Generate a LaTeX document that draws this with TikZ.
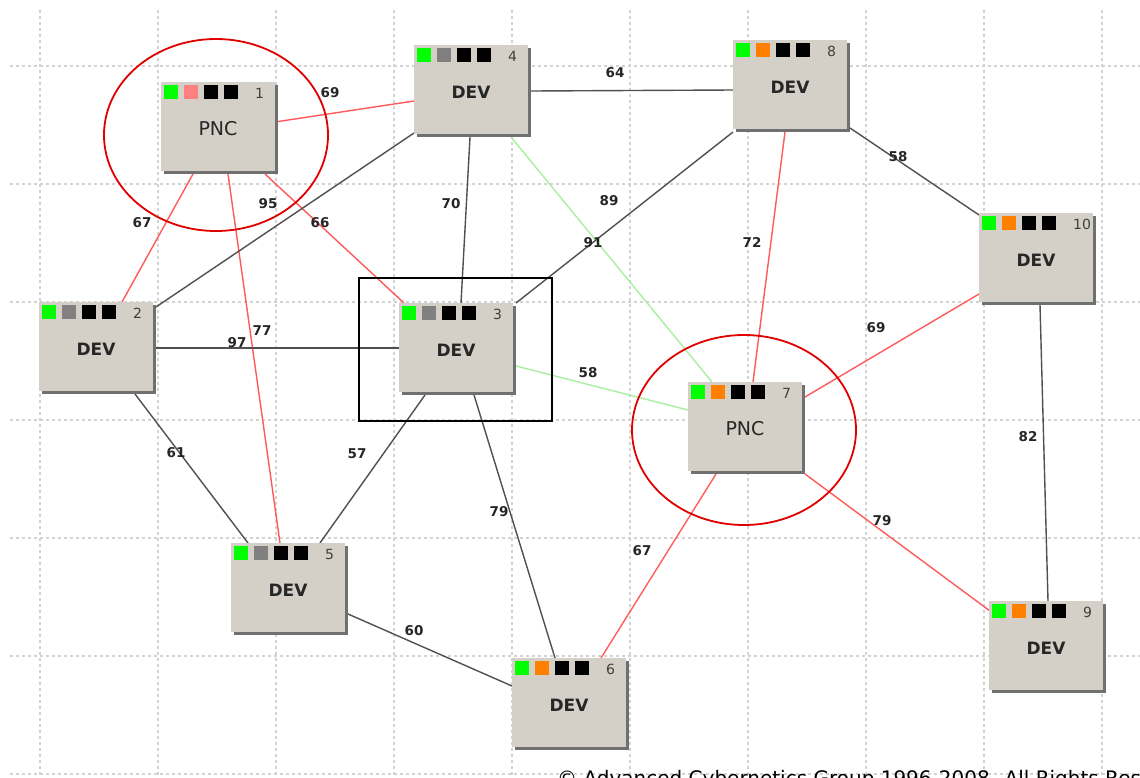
\documentclass[tikz,border=0pt]{standalone}
\usepackage{fontspec}
\setmainfont{DejaVu Sans}
\usetikzlibrary{calc}
\definecolor{gridgray}{HTML}{D2D2D2}
\definecolor{boxfill}{HTML}{D4D0C8}
\definecolor{boxshade}{HTML}{707070}
\definecolor{linkgray}{HTML}{505050}
\definecolor{linkred}{HTML}{FF5A5A}
\definecolor{linkgreen}{HTML}{A8F0A0}
\definecolor{ringred}{HTML}{E00000}
\definecolor{indgreen}{HTML}{00FF00}
\definecolor{indpink}{HTML}{FF8080}
\definecolor{indgray}{HTML}{808080}
\definecolor{indorange}{HTML}{FF8000}
\definecolor{numgray}{HTML}{404040}
\tikzset{
  gridline/.style={draw=gridgray, line width=1.2pt, dash pattern=on 3pt off 3pt},
  netbox/.style={rectangle, fill=boxfill, anchor=north west, minimum width=114pt, minimum height=89pt, inner sep=0pt, outer sep=0pt},
  boxshadow/.style={fill=boxshade},
  devtext/.style={font=\fontsize{17}{20}\selectfont\bfseries, text=black!85, inner sep=0pt},
  pnctext/.style={font=\fontsize{19}{22}\selectfont, text=black!85, inner sep=0pt},
  numtext/.style={font=\fontsize{14}{16}\selectfont, text=numgray, inner sep=0pt, anchor=west},
  glink/.style={draw=linkgray, line width=1.4pt},
  rlink/.style={draw=linkred, line width=1.4pt},
  grlink/.style={draw=linkgreen, line width=1.4pt},
  ring/.style={draw=ringred, line width=1.8pt},
  elabel/.style={font=\fontsize{13.5}{15}\selectfont\bfseries, text=black!85, inner sep=0pt},
  selbox/.style={draw=black, line width=1.6pt},
}
% name, x, y, title style, title, number, second indicator colour
\newcommand\netnode[7]{%
  \fill[boxshadow] (#2+3,#3+3) rectangle (#2+117,#3+92);
  \node[netbox] (#1) at (#2,#3) {};
  \fill[indgreen] ($(#1.north west)+(3,3)$) rectangle +(14,14);
  \fill[#7] ($(#1.north west)+(23,3)$) rectangle +(14,14);
  \fill[black] ($(#1.north west)+(43,3)$) rectangle +(14,14);
  \fill[black] ($(#1.north west)+(63,3)$) rectangle +(14,14);
  \node[numtext] (#1n) at ($(#1.north west)+(94,11)$) {#6};
  \node[#4] (#1t) at ($(#1.north west)+(57,47)$) {#5};
}
\begin{document}
\begin{tikzpicture}[x=1pt, y=-1pt]
\useasboundingbox (0,0) rectangle (1140,777);
\clip (0,0) rectangle (1140,777);
\fill[white] (0,0) rectangle (1140,777);
% grid
\foreach \gx in {40,158,276,394,512,630,748,866,984,1102} {
  \draw[gridline] (\gx,10) -- (\gx,777);
}
\foreach \gy in {66,184,302,420,538,656,774} {
  \draw[gridline] (10,\gy) -- (1140,\gy);
}
% node outlines first (positions), so connectors can refer to them
\begin{scope}
\node[netbox, fill=none] (n1) at (161,82) {};
\node[netbox, fill=none] (n2) at (39,302) {};
\node[netbox, fill=none] (n3) at (399,303) {};
\node[netbox, fill=none] (n4) at (414,45) {};
\node[netbox, fill=none] (n5) at (231,543) {};
\node[netbox, fill=none] (n6) at (512,658) {};
\node[netbox, fill=none] (n7) at (688,382) {};
\node[netbox, fill=none] (n8) at (733,40) {};
\node[netbox, fill=none] (n9) at (989,601) {};
\node[netbox, fill=none] (n10) at (979,213) {};
\end{scope}
% connectors
\draw[rlink] ($(n1.north west)+(114,40)$) -- ($(n4.north west)+(0,56)$);
\draw[rlink] ($(n1.north west)+(32,92)$) -- ($(n2.north west)+(83,0)$);
\draw[rlink] ($(n1.north west)+(67,92)$) -- ($(n5.north west)+(49,0)$);
\draw[rlink] ($(n1.north west)+(104,92)$) -- ($(n3.north west)+(5,0)$);
\draw[glink] ($(n2.north west)+(117,5)$) -- ($(n4.north west)+(0,88)$);
\draw[glink] ($(n2.north west)+(117,46)$) -- ($(n3.north west)+(0,45)$);
\draw[glink] ($(n2.north west)+(96,92)$) -- ($(n5.north west)+(17,0)$);
\draw[glink] ($(n4.north west)+(56,92)$) -- ($(n3.north west)+(62,0)$);
\draw[glink] ($(n4.north west)+(117,46)$) -- ($(n8.north west)+(0,50)$);
\draw[grlink] ($(n4.north west)+(97,92)$) -- ($(n7.north west)+(24,0)$);
\draw[glink] ($(n3.north west)+(117,0)$) -- ($(n8.north west)+(0,92)$);
\draw[grlink] ($(n3.north west)+(117,63)$) -- ($(n7.north west)+(0,28)$);
\draw[glink] ($(n3.north west)+(26,92)$) -- ($(n5.north west)+(89,0)$);
\draw[glink] ($(n3.north west)+(75,92)$) -- ($(n6.north west)+(43,0)$);
\draw[glink] ($(n5.north west)+(117,71)$) -- ($(n6.north west)+(0,28)$);
\draw[glink] ($(n8.north west)+(117,88)$) -- ($(n10.north west)+(0,2)$);
\draw[rlink] ($(n8.north west)+(52,92)$) -- ($(n7.north west)+(65,0)$);
\draw[rlink] ($(n10.north west)+(0,81)$) -- ($(n7.north west)+(117,15)$);
\draw[glink] ($(n10.north west)+(61,92)$) -- ($(n9.north west)+(59,0)$);
\draw[rlink] ($(n7.north west)+(28,92)$) -- ($(n6.north west)+(89,0)$);
\draw[rlink] ($(n7.north west)+(117,92)$) -- ($(n9.north west)+(1,10)$);
% nodes
\netnode{n1}{161}{82}{pnctext}{PNC}{1}{indpink}
\netnode{n2}{39}{302}{devtext}{DEV}{2}{indgray}
\netnode{n3}{399}{303}{devtext}{DEV}{3}{indgray}
\netnode{n4}{414}{45}{devtext}{DEV}{4}{indgray}
\netnode{n5}{231}{543}{devtext}{DEV}{5}{indgray}
\netnode{n6}{512}{658}{devtext}{DEV}{6}{indorange}
\netnode{n7}{688}{382}{pnctext}{PNC}{7}{indorange}
\netnode{n8}{733}{40}{devtext}{DEV}{8}{indorange}
\netnode{n9}{989}{601}{devtext}{DEV}{9}{indorange}
\netnode{n10}{979}{213}{devtext}{DEV}{10}{indorange}
% highlights
\draw[ring] (216,135) ellipse [x radius=112, y radius=96];
\draw[ring] (744,430) ellipse [x radius=112, y radius=95];
\draw[selbox] (359,278) rectangle (552,421);
% link labels
\node[elabel] (l14) at (330,93) {69};
\node[elabel] (l12) at (142,223) {67};
\node[elabel] (l24) at (268,204) {95};
\node[elabel] (l13) at (320,223) {66};
\node[elabel] (l15) at (262,331) {77};
\node[elabel] (l23) at (237,343) {97};
\node[elabel] (l25) at (176,453) {61};
\node[elabel] (l43) at (451,204) {70};
\node[elabel] (l48) at (615,73) {64};
\node[elabel] (l47) at (609,201) {89};
\node[elabel] (l38) at (593,243) {91};
\node[elabel] (l37) at (588,373) {58};
\node[elabel] (l35) at (357,454) {57};
\node[elabel] (l36) at (499,512) {79};
\node[elabel] (l56) at (414,631) {60};
\node[elabel] (l810) at (898,157) {58};
\node[elabel] (l87) at (752,242) {72};
\node[elabel] (l107) at (876,328) {69};
\node[elabel] (l109) at (1028,437) {82};
\node[elabel] (l76) at (642,551) {67};
\node[elabel] (l79) at (882,521) {79};
% footer (cut by the lower edge, as in the reference)
\node[anchor=north west, inner sep=0pt, font=\fontsize{20}{24}\selectfont] (foot) at (557,770) {© Advanced Cybernetics Group 1996-2008. All Rights Reserved};
\end{tikzpicture}
\end{document}
